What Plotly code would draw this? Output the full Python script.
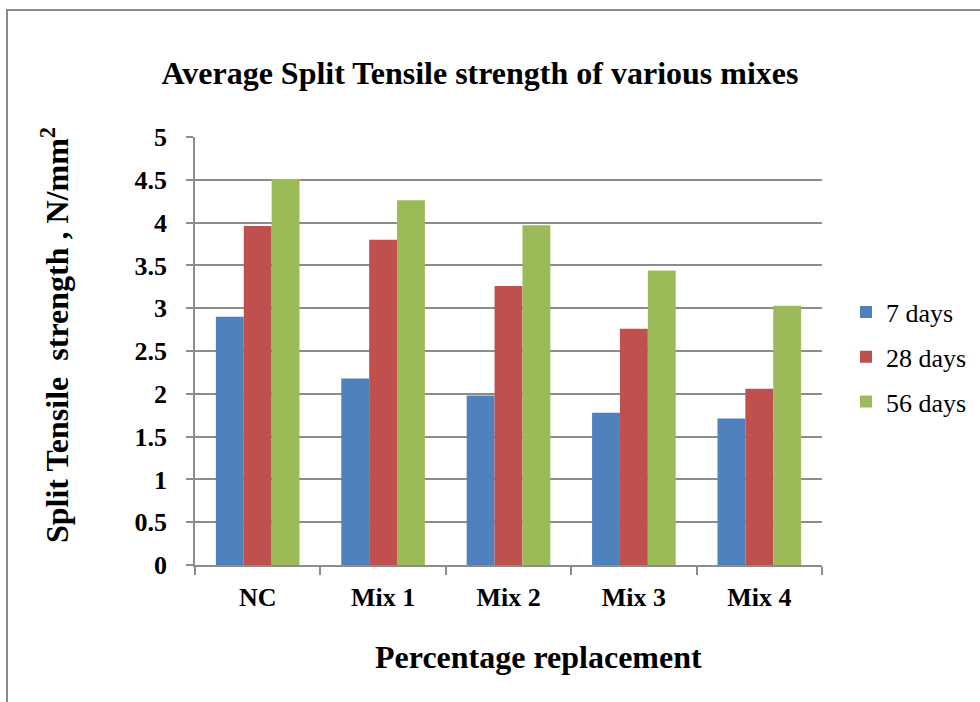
import plotly.graph_objects as go

categories = ["NC", "Mix 1", "Mix 2", "Mix 3", "Mix 4"]
series_names = ["7 days", "28 days", "56 days"]
days7 = [2.90, 2.18, 1.98, 1.78, 1.71]
days28 = [3.96, 3.80, 3.26, 2.76, 2.06]
days56 = [4.51, 4.26, 3.97, 3.44, 3.03]
colors = ["#4F81BD", "#C0504D", "#9BBB59"]
y_ticks = [0, 0.5, 1, 1.5, 2, 2.5, 3, 3.5, 4, 4.5, 5]
y_ticklabels = ["0", "0.5", "1", "1.5", "2", "2.5", "3", "3.5", "4", "4.5", "5"]
x_title = "Percentage replacement"
y_title = "Split Tensile  strength , N/mm<sup>2</sup>"
chart_title = "Average Split Tensile strength of various mixes"

FONT = "Liberation Serif"
GRID = "#8C8C8C"

fig = go.Figure()
for i, (name, vals) in enumerate(zip(series_names, [days7, days28, days56])):
    fig.add_trace(go.Bar(
        x=categories, y=vals, name=name,
        marker=dict(color=colors[i], line=dict(width=0)),
        legendgroup=name,
    ))

L, R, T, B = 195, 158, 137, 137
pw, ph = 980 - L - R, 702 - T - B
fig.update_layout(
    width=980, height=702,
    margin=dict(l=L, r=R, t=T, b=B, pad=0, autoexpand=False),
    paper_bgcolor="white", plot_bgcolor="white",
    barmode="group", bargap=0.333, bargroupgap=0,
    font=dict(family=FONT, color="black"),
    title=dict(
        text="<b>%s</b>" % chart_title,
        font=dict(family=FONT, size=32, color="black"),
        x=480 / 980, xref="container", xanchor="center",
        y=1 - 73 / 702, yref="container", yanchor="middle",
    ),
    legend=dict(
        x=(846 - L) / pw, xanchor="left", y=0.646, yanchor="top",
        font=dict(family=FONT, size=26, color="black"),
        tracegroupgap=8, bgcolor="rgba(0,0,0,0)",
    ),
    showlegend=True,
)
fig.update_xaxes(
    showline=True, linecolor=GRID, linewidth=1.5,
    ticks="outside", tickson="boundaries", ticklen=8, tickcolor=GRID, tickwidth=1.5,
    tickfont=dict(family=FONT, size=26, color="black"),
    ticklabelstandoff=8,
    tickprefix="<b>", ticksuffix="</b>",
    showgrid=False,
)
fig.update_yaxes(
    range=[0, 5], tickvals=y_ticks, ticktext=["<b>%s</b>" % t for t in y_ticklabels],
    showline=True, linecolor=GRID, linewidth=1.5,
    ticks="outside", ticklen=7, tickcolor=GRID, tickwidth=1.5,
    tickfont=dict(family=FONT, size=26, color="black"),
    ticklabelstandoff=14,
    showgrid=True, gridcolor=GRID, gridwidth=1.5,
    zeroline=False,
)

# axis titles (placed as in the reference)
fig.add_annotation(text="<b>%s</b>" % x_title, xref="paper", yref="paper",
                   x=(538 - L) / pw, y=(702 - B - 657) / ph,
                   xanchor="center", yanchor="middle", showarrow=False,
                   font=dict(family=FONT, size=32, color="black"))
fig.add_annotation(text="<b>%s</b>" % y_title, xref="paper", yref="paper",
                   x=(55 - L) / pw, y=(702 - B - 335) / ph, textangle=-90,
                   xanchor="center", yanchor="middle", showarrow=False,
                   font=dict(family=FONT, size=32, color="black"))

# outer chart border (Excel chart area frame)
fig.add_shape(type="rect", xref="paper", yref="paper",
              x0=(7 - L) / pw, x1=(1000 - L) / pw,
              y0=(702 - B - 720) / ph, y1=(702 - B - 10) / ph,
              line=dict(color="#8A8A8A", width=2), fillcolor="rgba(0,0,0,0)", layer="below")

fig.write_html("out.html")
